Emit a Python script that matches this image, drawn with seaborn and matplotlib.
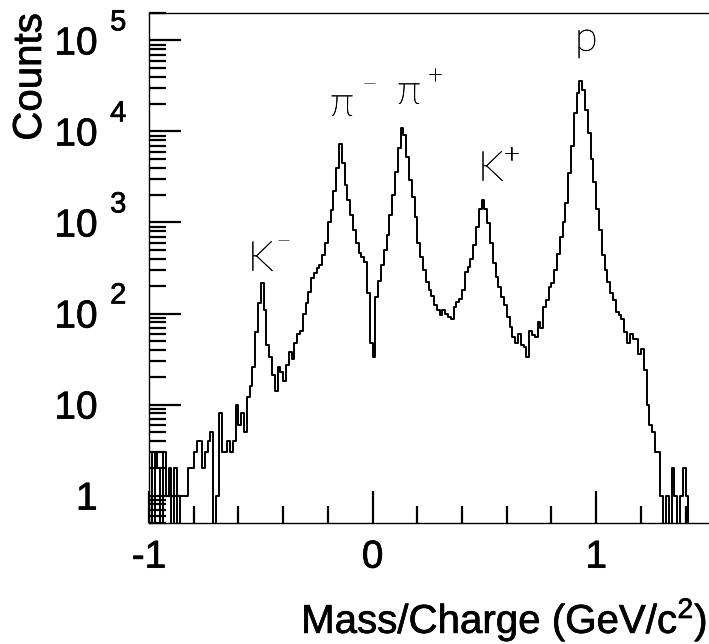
import matplotlib
matplotlib.use("Agg")
import matplotlib.pyplot as plt
import matplotlib.patheffects as pe
from matplotlib.ticker import FuncFormatter, LogLocator, MultipleLocator, NullFormatter
import numpy as np
import pandas as pd
import seaborn as sns

# histogram definition: 200 bins from -1 to 1.5 GeV/c^2
N_BINS = 200
X_LO, X_HI = -1.0, 1.5

# counts per bin (left to right)
counts = [
    3, 0, 3, 2, 0, 3, 1, 2, 0, 2,
    0, 1, 1, 1, 2, 2, 3, 4, 4, 2,
    3, 4, 5, 0, 1, 8, 3, 3, 4, 3,
    4, 10, 6, 8, 5, 12, 16, 26, 63, 130,
    214, 110, 45, 33, 21, 14, 26, 23, 18, 27,
    38, 32, 47, 60, 65, 100, 130, 172, 245, 280,
    315, 340, 440, 600, 1000, 1370, 2200, 4000, 7200, 4500,
    2600, 1780, 1200, 830, 600, 460, 420, 370, 170, 48,
    33, 150, 230, 340, 500, 725, 1200, 2000, 3600, 6560,
    10900, 9150, 5280, 2940, 1920, 1150, 600, 420, 300, 220,
    180, 155, 125, 108, 96, 108, 100, 91, 88, 118,
    134, 145, 180, 286, 325, 400, 560, 900, 1400, 1770,
    1400, 980, 600, 355, 252, 195, 152, 123, 91, 71,
    55, 47, 60, 45, 43, 33, 65, 58, 55, 80,
    70, 118, 140, 195, 214, 300, 450, 700, 1020, 1620,
    3500, 7000, 15800, 26300, 35400, 28700, 17300, 9550, 5000, 2800,
    1400, 825, 440, 300, 220, 170, 140, 104, 96, 88,
    63, 47, 60, 53, 53, 36, 41, 24, 10, 6,
    5, 3, 3, 1, 0, 1, 0, 2, 1, 0,
    1, 2, 1, 0, 0, 0, 0, 0, 0, 0,
]

# peak labels
peak_names = ["K", "\u03c0", "\u03c0", "K", "p"]
peak_charges = ["\u2212", "\u2212", "+", "+", ""]
# label anchor (mass, counts) and charge anchor
peak_label_xy = [(-0.558, 295), (-0.191, 14900), (0.109, 20200), (0.471, 2880), (0.905, 77300)]
peak_charge_xy = [(-0.397, 615), (-0.012, 32700), (0.279, 40500), (0.621, 5490), None]

edges = np.linspace(X_LO, X_HI, N_BINS + 1)
centers = 0.5 * (edges[:-1] + edges[1:])
df = pd.DataFrame({"mass": centers, "counts": counts})

sns.set_theme(style="white")
plt.rcParams["font.family"] = ["Liberation Sans", "DejaVu Sans"]
plt.rcParams["mathtext.fontset"] = "custom"
plt.rcParams["mathtext.rm"] = "Liberation Sans"
plt.rcParams["mathtext.it"] = "Liberation Sans:italic"
plt.rcParams["axes.unicode_minus"] = False
for key in ["text.color", "axes.labelcolor", "xtick.color", "ytick.color"]:
    plt.rcParams[key] = "black"

# ROOT's Helvetica comes out a bit heavier than Liberation Sans
heavy = [pe.withStroke(linewidth=0.5, foreground="black")]
hair = [pe.withStroke(linewidth=0.4, foreground="black")]

W, H = 709, 644
fig = plt.figure(figsize=(W / 100, H / 100), dpi=100)
ax = fig.add_axes([149 / W, 121 / H, 559 / W, 510 / H])

sns.histplot(data=df, x="mass", weights="counts", bins=list(edges), element="step",
             fill=False, color="black", linewidth=1.4, ax=ax)
ax.set_yscale("log")
ax.set_xlim(X_LO, X_HI)
ax.set_ylim(0.5, 2e5)

for side in ["left", "bottom", "top"]:
    ax.spines[side].set_color("black")
    ax.spines[side].set_linewidth(1.0)
ax.spines["right"].set_visible(False)

ax.xaxis.set_major_locator(MultipleLocator(1))
ax.xaxis.set_minor_locator(MultipleLocator(0.2))
ax.xaxis.set_major_formatter(FuncFormatter(lambda v, p: f"{v:.0f}"))
ax.yaxis.set_major_locator(LogLocator(base=10, numticks=12))
ax.yaxis.set_minor_locator(LogLocator(base=10, subs=np.arange(2, 10), numticks=12))
ax.yaxis.set_minor_formatter(NullFormatter())
ax.yaxis.set_major_formatter(FuncFormatter(lambda v, p: "1" if v < 5 else "10"))

ax.tick_params(which="both", direction="in", bottom=True, left=True, top=False, right=False,
               color="black", width=1.6)
ax.tick_params(which="major", length=23, labelsize=28)
ax.tick_params(which="minor", length=12)
ax.tick_params(axis="y", which="major", pad=37)
ax.tick_params(axis="x", which="major", pad=12)
for lbl in ax.get_xticklabels() + ax.get_yticklabels():
    lbl.set_path_effects(heavy)

# exponents of the y tick labels, ROOT style
for k in range(2, 6):
    ax.annotate(str(k), xy=(0, 10.0 ** k), xycoords=("axes fraction", "data"),
                xytext=(-28, 13), textcoords="offset points",
                ha="left", va="center", fontsize=21, path_effects=heavy)

ax.set_ylabel("Counts", fontsize=29, loc="top", path_effects=heavy)
ax.yaxis.set_label_coords(-0.179, 1.0)
ax.set_xlabel("Mass/Charge (GeV/c$^{2}$)", fontsize=29, loc="right", path_effects=heavy)
ax.xaxis.set_label_coords(0.998, -0.143)

thin = dict(family=["Lato", "DejaVu Sans"], fontweight="light", color="black", path_effects=hair)
for name, charge, (lx, ly), cxy in zip(peak_names, peak_charges, peak_label_xy, peak_charge_xy):
    ax.text(lx, ly, name, fontsize=30, ha="left", va="baseline", **thin)
    if cxy is not None:
        ax.text(cxy[0], cxy[1], charge, fontsize=20, ha="center", va="center", **thin)

fig.savefig("out.png", dpi=100, facecolor="white")
